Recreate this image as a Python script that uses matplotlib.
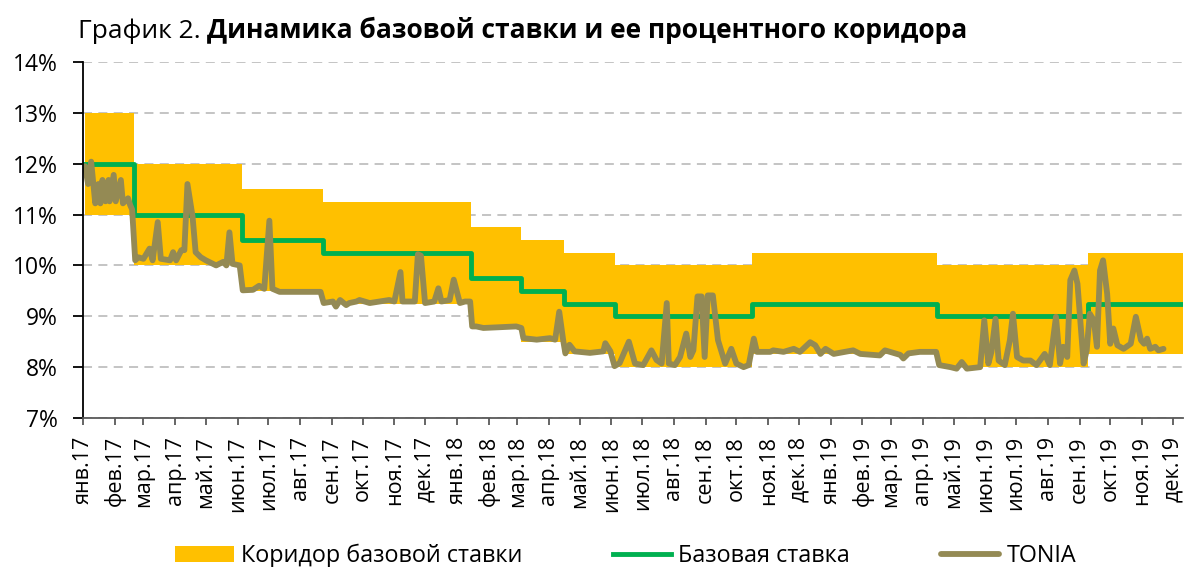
import numpy as np
import pandas as pd
import matplotlib
matplotlib.use("Agg")
import matplotlib.pyplot as plt
import matplotlib.dates as mdates
from matplotlib.ticker import FuncFormatter, MultipleLocator

plt.rcParams['font.family'] = ['Open Sans', 'DejaVu Sans']

# base rate and its corridor (step changes)
base_dates = ['2017-01-03', '2017-02-20', '2017-06-05', '2017-08-23', '2018-01-15', '2018-03-05',
              '2018-04-16', '2018-06-04', '2018-10-16', '2019-04-15', '2019-09-09', '2019-12-11']
base_rate = [12.0, 11.0, 10.5, 10.25, 9.75, 9.5, 9.25, 9.0, 9.25, 9.0, 9.25, 9.25]
corr_low = [11.0, 10.0, 9.5, 9.25, 8.75, 8.5, 8.25, 8.0, 8.25, 8.0, 8.25, 8.25]
corr_high = [13.0, 12.0, 11.5, 11.25, 10.75, 10.5, 10.25, 10.0, 10.25, 10.0, 10.25, 10.25]

# TONIA
tonia_dates = [
    '2017-01-03', '2017-01-06', '2017-01-09', '2017-01-13', '2017-01-16', '2017-01-18', '2017-01-20', '2017-01-23',
    '2017-01-26', '2017-01-27', '2017-01-31', '2017-02-02', '2017-02-07', '2017-02-09', '2017-02-14', '2017-02-16',
    '2017-02-18',
    '2017-02-21', '2017-02-24', '2017-03-01', '2017-03-07', '2017-03-10', '2017-03-15', '2017-03-18', '2017-03-27',
    '2017-03-30', '2017-04-02', '2017-04-07', '2017-04-10', '2017-04-13', '2017-04-18', '2017-04-21', '2017-04-26',
    '2017-05-01', '2017-05-11', '2017-05-18', '2017-05-21', '2017-05-24', '2017-05-27', '2017-06-03',
    '2017-06-06', '2017-06-16', '2017-06-22', '2017-06-27', '2017-07-02', '2017-07-05', '2017-07-12', '2017-08-21',
    '2017-08-24', '2017-09-02', '2017-09-05', '2017-09-09', '2017-09-15', '2017-09-18', '2017-09-25', '2017-09-28',
    '2017-10-08', '2017-10-27', '2017-11-01', '2017-11-07', '2017-11-09', '2017-11-21', '2017-11-24', '2017-11-27',
    '2017-12-01', '2017-12-10', '2017-12-14', '2017-12-17', '2017-12-25', '2017-12-29', '2018-01-04', '2018-01-09',
    '2018-01-14',
    '2018-01-16', '2018-01-20', '2018-01-27', '2018-02-28', '2018-03-05', '2018-03-07', '2018-03-20', '2018-04-02',
    '2018-04-07', '2018-04-11', '2018-04-15', '2018-04-17', '2018-04-21', '2018-04-26', '2018-05-11', '2018-05-24',
    '2018-05-26', '2018-05-31',
    '2018-06-04', '2018-06-09', '2018-06-18', '2018-06-24', '2018-07-02', '2018-07-10', '2018-07-15', '2018-07-20',
    '2018-07-25', '2018-07-27', '2018-08-02', '2018-08-07', '2018-08-13', '2018-08-17', '2018-08-20', '2018-08-24',
    '2018-08-28', '2018-08-31', '2018-09-03', '2018-09-08', '2018-09-13', '2018-09-20', '2018-09-26', '2018-10-01',
    '2018-10-08', '2018-10-13',
    '2018-10-18', '2018-10-21', '2018-11-03', '2018-11-06', '2018-11-16', '2018-11-26', '2018-12-02', '2018-12-12',
    '2018-12-17', '2018-12-22', '2018-12-27', '2019-01-04', '2019-01-23', '2019-01-30', '2019-02-18', '2019-02-23',
    '2019-03-10', '2019-03-13', '2019-03-18', '2019-03-29', '2019-04-14',
    '2019-04-17', '2019-04-28', '2019-05-04', '2019-05-09', '2019-05-14', '2019-05-27', '2019-05-31', '2019-06-04',
    '2019-06-07', '2019-06-11', '2019-06-14', '2019-06-20', '2019-06-25', '2019-06-28', '2019-07-02', '2019-07-08',
    '2019-07-15', '2019-07-21', '2019-07-29', '2019-08-03', '2019-08-09', '2019-08-13', '2019-08-16', '2019-08-20',
    '2019-08-23', '2019-08-27', '2019-08-30', '2019-09-02', '2019-09-05', '2019-09-08',
    '2019-09-11', '2019-09-15', '2019-09-18', '2019-09-21', '2019-09-24', '2019-09-28', '2019-10-01', '2019-10-04',
    '2019-10-08', '2019-10-14', '2019-10-21', '2019-10-26', '2019-10-31', '2019-11-03', '2019-11-06', '2019-11-09',
    '2019-11-14', '2019-11-17', '2019-11-22']
tonia_values = [
    11.95, 11.6, 12.04, 11.22, 11.6, 11.22, 11.68, 11.26,
    11.68, 11.26, 11.78, 11.26, 11.68, 11.22, 11.32, 11.19,
    11.1,
    10.1, 10.16, 10.13, 10.33, 10.1, 10.85, 10.13, 10.1,
    10.26, 10.1, 10.3, 10.3, 11.6, 10.96, 10.26, 10.16,
    10.1, 10.0, 10.07, 10.0, 10.65, 10.03, 10.0,
    9.51, 9.52, 9.6, 9.54, 10.88, 9.54, 9.48, 9.48,
    9.26, 9.29, 9.19, 9.32, 9.22, 9.26, 9.29, 9.32,
    9.26, 9.32, 9.29, 9.87, 9.29, 9.29, 10.22, 10.19,
    9.26, 9.29, 9.55, 9.29, 9.32, 9.72, 9.26, 9.29,
    9.29,
    8.8, 8.8, 8.77, 8.8, 8.77, 8.57, 8.54, 8.57,
    8.54, 9.09, 8.51, 8.27, 8.44, 8.31, 8.28, 8.31,
    8.47, 8.31,
    8.02, 8.08, 8.5, 8.07, 8.04, 8.33, 8.14, 8.07,
    9.26, 8.07, 8.04, 8.2, 8.66, 8.2, 8.33, 9.39,
    9.39, 8.2, 9.41, 9.41, 8.53, 8.07, 8.36, 8.07,
    8.0, 8.04,
    8.56, 8.3, 8.3, 8.33, 8.3, 8.36, 8.3, 8.49,
    8.43, 8.26, 8.36, 8.26, 8.33, 8.26, 8.23, 8.33,
    8.24, 8.17, 8.27, 8.3, 8.3,
    8.04, 8.0, 7.97, 8.1, 7.97, 8.0, 8.92, 8.07,
    8.3, 8.95, 8.13, 8.04, 8.53, 9.05, 8.2, 8.13,
    8.13, 8.04, 8.26, 8.04, 8.99, 8.07, 8.4, 8.2,
    9.71, 9.9, 9.64, 8.86, 8.07, 8.33,
    9.05, 8.92, 8.4, 9.9, 10.1, 9.44, 8.46, 8.76,
    8.43, 8.36, 8.46, 8.99, 8.53, 8.46, 8.56, 8.36,
    8.4, 8.33, 8.36]

month_names = ['янв', 'фев', 'мар', 'апр', 'май', 'июн', 'июл', 'авг', 'сен', 'окт', 'ноя', 'дек']

title_plain = 'График 2. '
title_bold = 'Динамика базовой ставки и ее процентного коридора'
labels = ['Коридор базовой ставки', 'Базовая ставка', 'TONIA']

bd = pd.to_datetime(base_dates)
td = pd.to_datetime(tonia_dates)

fig = plt.figure(figsize=(11.87, 5.67), dpi=100)
ax = fig.add_axes([0.0699, 0.2628, 0.9267, 0.6279])

ax.fill_between(bd, corr_low, corr_high, step='post', color='#FFC000', linewidth=0, label=labels[0])
ax.plot(bd, base_rate, drawstyle='steps-post', color='#00B050', lw=3.5, label=labels[1])
ax.plot(td, tonia_values, color='#948A54', lw=4.2, solid_joinstyle='round', solid_capstyle='round',
        label=labels[2])

ax.set_ylim(7, 14)
ax.yaxis.set_major_locator(MultipleLocator(1))
ax.yaxis.set_major_formatter(FuncFormatter(lambda v, p: '{:.0f}%'.format(v)))
ax.set_xlim(pd.Timestamp('2017-01-01'), pd.Timestamp('2019-12-11'))
ax.xaxis.set_major_locator(mdates.MonthLocator())
ax.xaxis.set_major_formatter(FuncFormatter(
    lambda v, p: month_names[mdates.num2date(v).month - 1] + '.' + mdates.num2date(v).strftime('%y')))

ax.set_axisbelow(True)
ax.grid(axis='y', color='#BFBFBF', lw=1.3, linestyle=(0, (5, 3.5)))
for s in ['top', 'right']:
    ax.spines[s].set_visible(False)
ax.spines['left'].set_color('black')
ax.spines['left'].set_linewidth(1.3)
ax.spines['bottom'].set_color('#595959')
ax.spines['bottom'].set_linewidth(1.3)

ax.tick_params(axis='y', labelsize=16.5, length=7, width=1.3, pad=11, direction='out')
ax.tick_params(axis='x', labelsize=15.5, length=5, width=1.3, pad=8, direction='out', colors='black')
ax.tick_params(axis='x', color='#595959')
for lab in ax.get_xticklabels():
    lab.set_rotation(90)

t1 = fig.text(0.0657, 0.933, title_plain, fontsize=19, va='baseline', ha='left')
fig.canvas.draw()
ax.annotate(title_bold, xy=(1, 0), xycoords=t1, va='bottom', ha='left', fontsize=19, fontweight='bold')

fig.legend(loc='center', bbox_to_anchor=(0.527, 0.02), ncol=3, frameon=False, fontsize=16.8,
           handlelength=2.5, columnspacing=3.9, handletextpad=0.3)

fig.savefig('out.png', dpi=100)
